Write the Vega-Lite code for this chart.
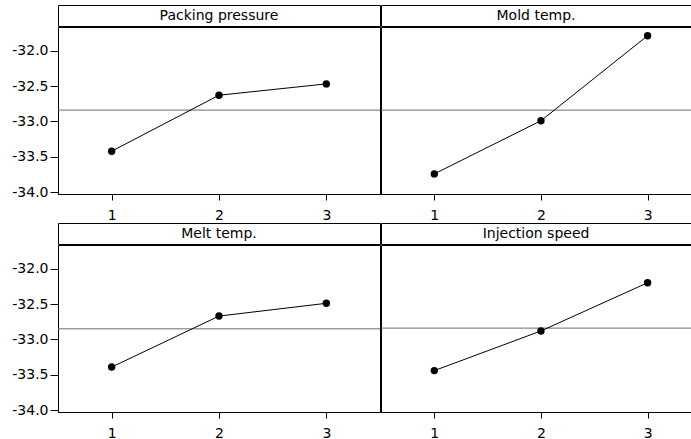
{
  "$schema": "https://vega.github.io/schema/vega-lite/v6.json",
  "padding": {"left": 11, "top": 4, "right": 0, "bottom": 0},
  "background": "white",
  "datasets": {
    "levels": [
      {"factor": "Packing pressure", "level": 1, "sn": -33.42},
      {"factor": "Packing pressure", "level": 2, "sn": -32.63},
      {"factor": "Packing pressure", "level": 3, "sn": -32.47},
      {"factor": "Mold temp.", "level": 1, "sn": -33.74},
      {"factor": "Mold temp.", "level": 2, "sn": -32.99},
      {"factor": "Mold temp.", "level": 3, "sn": -31.79},
      {"factor": "Melt temp.", "level": 1, "sn": -33.39},
      {"factor": "Melt temp.", "level": 2, "sn": -32.67},
      {"factor": "Melt temp.", "level": 3, "sn": -32.49},
      {"factor": "Injection speed", "level": 1, "sn": -33.44},
      {"factor": "Injection speed", "level": 2, "sn": -32.88},
      {"factor": "Injection speed", "level": 3, "sn": -32.2}
    ],
    "factors": [
      {"factor": "Packing pressure"},
      {"factor": "Mold temp."},
      {"factor": "Melt temp."},
      {"factor": "Injection speed"}
    ]
  },
  "columns": 2,
  "spacing": {"row": -3, "column": -2},
  "concat": [
    {
      "width": 322, "height": 21,
      "data": {"name": "factors"},
      "transform": [{"filter": "datum.factor === 'Packing pressure'"}],
      "mark": {"type": "text", "font": "DejaVu Sans", "fontSize": 14, "color": "black", "baseline": "middle"},
      "encoding": {
        "text": {"field": "factor", "type": "nominal"},
        "y": {"field": "factor", "type": "nominal", "axis": {"labels": false, "ticks": false, "domain": false, "title": null, "minExtent": 46, "maxExtent": 46}}
      }
    },
    {
      "width": 310, "height": 21,
      "data": {"name": "factors"},
      "transform": [{"filter": "datum.factor === 'Mold temp.'"}],
      "mark": {"type": "text", "font": "DejaVu Sans", "fontSize": 14, "color": "black", "baseline": "middle"},
      "encoding": {
        "text": {"field": "factor", "type": "nominal"},
        "y": {"field": "factor", "type": "nominal", "axis": null}
      }
    },
    {
      "width": 322, "height": 167,
      "data": {"name": "levels"},
      "transform": [{"filter": "datum.factor === 'Packing pressure'"}],
      "layer": [
        {
          "mark": {"type": "rule", "color": "#6e6e6e", "strokeWidth": 1},
          "encoding": {"y": {"aggregate": "mean", "field": "sn", "type": "quantitative", "scale": {"domain": [-34.024, -31.667], "nice": false, "zero": false}, "axis": {"values": [-34, -33.5, -33, -32.5, -32], "title": null, "minExtent": 46, "maxExtent": 46, "labelExpr": "replace(format(datum.value, '.1f'), '\u2212', '-')"}}}
        },
        {
          "mark": {"type": "line", "color": "black", "strokeWidth": 1, "point": {"filled": true, "size": 55, "color": "black", "opacity": 1}},
          "encoding": {
            "x": {"field": "level", "type": "quantitative", "scale": {"domain": [0.5, 3.5], "nice": false, "zero": false}, "axis": {"values": [1, 2, 3], "format": "d", "title": null}},
            "y": {"field": "sn", "type": "quantitative", "scale": {"domain": [-34.024, -31.667], "nice": false, "zero": false}, "axis": {"values": [-34, -33.5, -33, -32.5, -32], "title": null, "minExtent": 46, "maxExtent": 46, "labelExpr": "replace(format(datum.value, '.1f'), '\u2212', '-')"}}
          }
        }
      ]
    },
    {
      "width": 310, "height": 167,
      "data": {"name": "levels"},
      "transform": [{"filter": "datum.factor === 'Mold temp.'"}],
      "layer": [
        {
          "mark": {"type": "rule", "color": "#6e6e6e", "strokeWidth": 1},
          "encoding": {"y": {"aggregate": "mean", "field": "sn", "type": "quantitative", "scale": {"domain": [-34.024, -31.667], "nice": false, "zero": false}, "axis": null}}
        },
        {
          "mark": {"type": "line", "color": "black", "strokeWidth": 1, "point": {"filled": true, "size": 55, "color": "black", "opacity": 1}},
          "encoding": {
            "x": {"field": "level", "type": "quantitative", "scale": {"domain": [0.5, 3.407], "nice": false, "zero": false}, "axis": {"values": [1, 2, 3], "format": "d", "title": null}},
            "y": {"field": "sn", "type": "quantitative", "scale": {"domain": [-34.024, -31.667], "nice": false, "zero": false}, "axis": null}
          }
        }
      ]
    },
    {
      "width": 322, "height": 21,
      "data": {"name": "factors"},
      "transform": [{"filter": "datum.factor === 'Melt temp.'"}],
      "mark": {"type": "text", "font": "DejaVu Sans", "fontSize": 14, "color": "black", "baseline": "middle"},
      "encoding": {
        "text": {"field": "factor", "type": "nominal"},
        "y": {"field": "factor", "type": "nominal", "axis": {"labels": false, "ticks": false, "domain": false, "title": null, "minExtent": 46, "maxExtent": 46}}
      }
    },
    {
      "width": 310, "height": 21,
      "data": {"name": "factors"},
      "transform": [{"filter": "datum.factor === 'Injection speed'"}],
      "mark": {"type": "text", "font": "DejaVu Sans", "fontSize": 14, "color": "black", "baseline": "middle"},
      "encoding": {
        "text": {"field": "factor", "type": "nominal"},
        "y": {"field": "factor", "type": "nominal", "axis": null}
      }
    },
    {
      "width": 322, "height": 167,
      "data": {"name": "levels"},
      "transform": [{"filter": "datum.factor === 'Melt temp.'"}],
      "layer": [
        {
          "mark": {"type": "rule", "color": "#6e6e6e", "strokeWidth": 1},
          "encoding": {"y": {"aggregate": "mean", "field": "sn", "type": "quantitative", "scale": {"domain": [-34.024, -31.667], "nice": false, "zero": false}, "axis": {"values": [-34, -33.5, -33, -32.5, -32], "title": null, "minExtent": 46, "maxExtent": 46, "labelExpr": "replace(format(datum.value, '.1f'), '\u2212', '-')"}}}
        },
        {
          "mark": {"type": "line", "color": "black", "strokeWidth": 1, "point": {"filled": true, "size": 55, "color": "black", "opacity": 1}},
          "encoding": {
            "x": {"field": "level", "type": "quantitative", "scale": {"domain": [0.5, 3.5], "nice": false, "zero": false}, "axis": {"values": [1, 2, 3], "format": "d", "title": null}},
            "y": {"field": "sn", "type": "quantitative", "scale": {"domain": [-34.024, -31.667], "nice": false, "zero": false}, "axis": {"values": [-34, -33.5, -33, -32.5, -32], "title": null, "minExtent": 46, "maxExtent": 46, "labelExpr": "replace(format(datum.value, '.1f'), '\u2212', '-')"}}
          }
        }
      ]
    },
    {
      "width": 310, "height": 167,
      "data": {"name": "levels"},
      "transform": [{"filter": "datum.factor === 'Injection speed'"}],
      "layer": [
        {
          "mark": {"type": "rule", "color": "#6e6e6e", "strokeWidth": 1},
          "encoding": {"y": {"aggregate": "mean", "field": "sn", "type": "quantitative", "scale": {"domain": [-34.024, -31.667], "nice": false, "zero": false}, "axis": null}}
        },
        {
          "mark": {"type": "line", "color": "black", "strokeWidth": 1, "point": {"filled": true, "size": 55, "color": "black", "opacity": 1}},
          "encoding": {
            "x": {"field": "level", "type": "quantitative", "scale": {"domain": [0.5, 3.407], "nice": false, "zero": false}, "axis": {"values": [1, 2, 3], "format": "d", "title": null}},
            "y": {"field": "sn", "type": "quantitative", "scale": {"domain": [-34.024, -31.667], "nice": false, "zero": false}, "axis": null}
          }
        }
      ]
    }
  ],
  "config": {
    "font": "DejaVu Sans",
    "view": {"stroke": "black", "strokeWidth": 1},
    "axis": {
      "grid": false,
      "domainColor": "black",
      "domainWidth": 1,
      "tickColor": "black",
      "tickWidth": 1,
      "labelColor": "black",
      "labelFont": "DejaVu Sans",
      "labelFontSize": 14
    },
    "axisX": {"tickSize": 6, "labelPadding": 8},
    "axisY": {"tickSize": 8, "labelPadding": 2}
  }
}
